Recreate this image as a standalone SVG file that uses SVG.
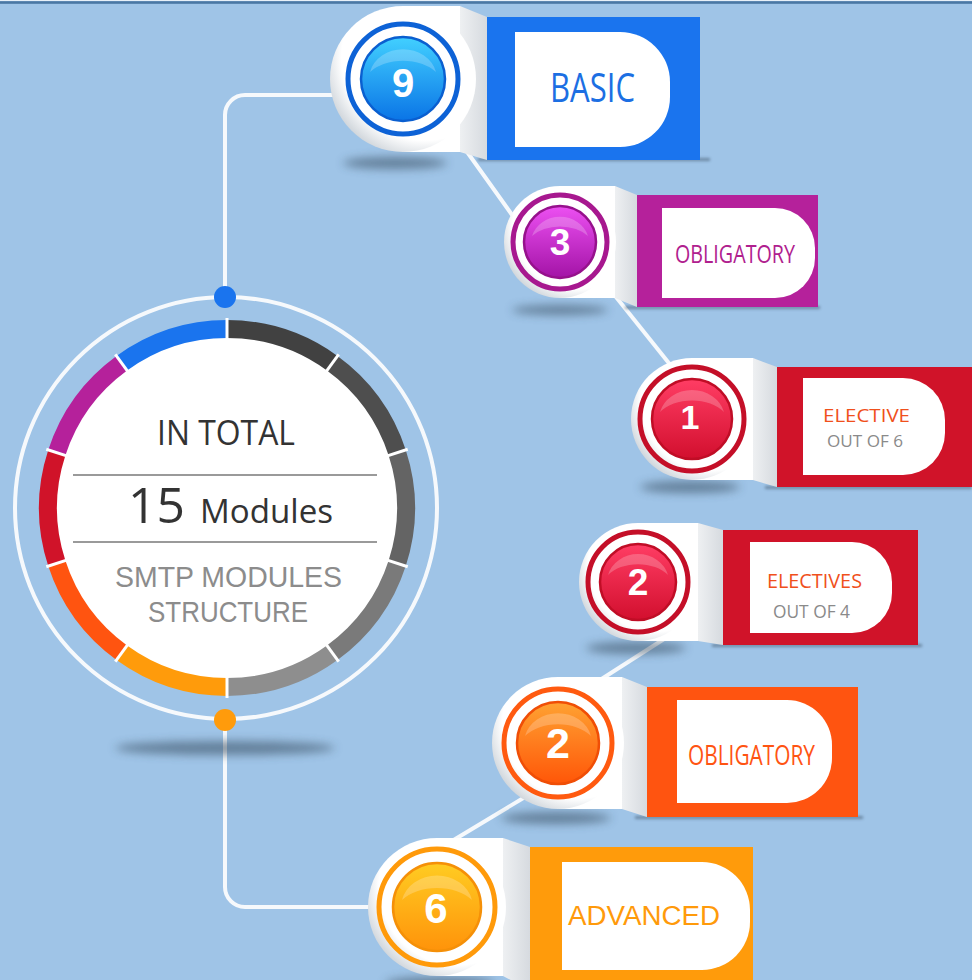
<svg xmlns="http://www.w3.org/2000/svg" width="972" height="980" viewBox="0 0 972 980">
<style>
.conn{fill:none;stroke:#f6f9fc;stroke-width:4;stroke-linecap:round}
.shadow{fill:#33465a;opacity:.55;filter:url(#blur)}
.rshadow{fill:#2c3e50;opacity:.45;filter:url(#blur2)}
.tab{fill:#ffffff}
.disc{fill:url(#wgrad)}
.fold{fill:url(#foldg)}
.dlabel{fill:#ffffff}
.num{font-family:"Liberation Sans",Arial,sans-serif;font-weight:bold;fill:#ffffff;text-anchor:middle}
.lbl{font-family:"Open Sans","Liberation Sans",sans-serif}
.hl{fill:#ffffff;opacity:.22}
.ring{fill:none;stroke-width:5}
.seg{fill:none;stroke-width:18}
.div{stroke:#ffffff;stroke-width:3}
</style>
<defs>
<filter id="blur" x="-50%" y="-200%" width="200%" height="500%"><feGaussianBlur stdDeviation="5"/></filter>
<filter id="blur2" x="-10%" y="-200%" width="120%" height="500%"><feGaussianBlur stdDeviation="1.5"/></filter>
<radialGradient id="wgrad" cx="0.65" cy="0.35" r="0.75">
<stop offset="0.76" stop-color="#ffffff"/>
<stop offset="1" stop-color="#c4cbd2"/>
</radialGradient>
<linearGradient id="foldg" x1="0" y1="0" x2="1" y2="0">
<stop offset="0" stop-color="#eef0f2"/>
<stop offset="1" stop-color="#d6dadf"/>
</linearGradient>
<linearGradient id="gBlue" x1="0" y1="0" x2="0" y2="1">
<stop offset="0" stop-color="#42d0ff"/>
<stop offset="1" stop-color="#0a74e6"/>
</linearGradient>
<linearGradient id="gMag" x1="0" y1="0" x2="0" y2="1">
<stop offset="0" stop-color="#ec50f2"/>
<stop offset="1" stop-color="#a313a6"/>
</linearGradient>
<linearGradient id="gRed" x1="0" y1="0" x2="0" y2="1">
<stop offset="0" stop-color="#ff3d64"/>
<stop offset="1" stop-color="#d20f2e"/>
</linearGradient>
<linearGradient id="gOr" x1="0" y1="0" x2="0" y2="1">
<stop offset="0" stop-color="#ffa232"/>
<stop offset="1" stop-color="#ff5608"/>
</linearGradient>
<linearGradient id="gAmb" x1="0" y1="0" x2="0" y2="1">
<stop offset="0" stop-color="#ffcc22"/>
<stop offset="1" stop-color="#ff930a"/>
</linearGradient>
</defs>

<rect x="0" y="0" width="972" height="980" fill="#9fc4e7"/>
<rect x="0" y="0" width="972" height="1.2" fill="#e8f0f8"/>
<rect x="0" y="1.2" width="972" height="2.6" fill="#4a77a3"/>

<g id="connectors">
<path class="conn" d="M225,297 V115 A20,20 0 0 1 245,95 H335"/>
<path class="conn" d="M225,720 V887 A20,20 0 0 0 245,907 H372"/>
<path class="conn" d="M455,135 L520,226"/>
<path class="conn" d="M612,292 L680,377"/>
<path class="conn" d="M675,632 L575,696"/>
<path class="conn" d="M530,794 L452,841"/>
</g>

<g id="center">
<ellipse class="shadow" cx="225" cy="748" rx="110" ry="7"/>
<circle cx="226" cy="508" r="211" fill="none" stroke="#f6f9fc" stroke-width="4"/>
<circle cx="227" cy="508" r="172" fill="#ffffff"/>
<path class="seg" stroke="#414141" d="M227,329 A179,179 0 0 1 332.2,363.2"/>
<path class="seg" stroke="#4e4e4e" d="M332.2,363.2 A179,179 0 0 1 397.2,452.7"/>
<path class="seg" stroke="#646464" d="M397.2,452.7 A179,179 0 0 1 397.2,563.3"/>
<path class="seg" stroke="#7a7a7a" d="M397.2,563.3 A179,179 0 0 1 332.2,652.8"/>
<path class="seg" stroke="#8e8e8e" d="M332.2,652.8 A179,179 0 0 1 227,687"/>
<path class="seg" stroke="#ff9b0b" d="M227,687 A179,179 0 0 1 121.8,652.8"/>
<path class="seg" stroke="#ff5410" d="M121.8,652.8 A179,179 0 0 1 56.8,563.3"/>
<path class="seg" stroke="#d01329" d="M56.8,563.3 A179,179 0 0 1 56.8,452.7"/>
<path class="seg" stroke="#b5219b" d="M56.8,452.7 A179,179 0 0 1 121.8,363.2"/>
<path class="seg" stroke="#1a74ee" d="M121.8,363.2 A179,179 0 0 1 227,329"/>
<line class="div" x1="227" y1="341" x2="227" y2="318"/>
<line class="div" x1="325.2" y1="372.9" x2="338.7" y2="354.3"/>
<line class="div" x1="385.8" y1="456.4" x2="407.7" y2="449.3"/>
<line class="div" x1="385.8" y1="559.6" x2="407.7" y2="566.7"/>
<line class="div" x1="325.2" y1="643.1" x2="338.7" y2="661.7"/>
<line class="div" x1="227" y1="675" x2="227" y2="698"/>
<line class="div" x1="128.8" y1="643.1" x2="115.3" y2="661.7"/>
<line class="div" x1="68.2" y1="559.6" x2="46.3" y2="566.7"/>
<line class="div" x1="68.2" y1="456.4" x2="46.3" y2="449.3"/>
<line class="div" x1="128.8" y1="372.9" x2="115.3" y2="354.3"/>
<circle cx="225" cy="297" r="11" fill="#1a74ee"/>
<circle cx="225" cy="720" r="11" fill="#ff9b0b"/>
<text class="lbl" x="157" y="445" font-size="35" fill="#333333" textLength="138" lengthAdjust="spacingAndGlyphs">IN TOTAL</text>
<line x1="73" y1="475" x2="377" y2="475" stroke="#9a9a9a" stroke-width="2"/>
<text class="lbl" x="128" y="523" font-size="49" fill="#333333" textLength="57" lengthAdjust="spacingAndGlyphs">15</text>
<text class="lbl" x="200" y="523" font-size="32" fill="#333333" textLength="133" lengthAdjust="spacingAndGlyphs">Modules</text>
<line x1="73" y1="542" x2="377" y2="542" stroke="#9a9a9a" stroke-width="2"/>
<text x="115" y="587" font-size="30" fill="#8c8c8c" font-family="Liberation Sans, Arial, sans-serif" textLength="227" lengthAdjust="spacingAndGlyphs">SMTP MODULES</text>
<text x="148" y="622" font-size="30" fill="#8c8c8c" font-family="Liberation Sans, Arial, sans-serif" textLength="160" lengthAdjust="spacingAndGlyphs">STRUCTURE</text>
</g>

<g id="node-basic">
<ellipse class="shadow" cx="395" cy="163" rx="52" ry="6"/>
<rect class="rshadow" x="478" y="158" width="232" height="3"/>
<rect x="487" y="17" width="213" height="143" fill="#1a74ee"/>
<path class="fold" d="M460,6 L487,17 L487,160 L460,152 Z"/>
<rect class="tab" x="403" y="6" width="57" height="146"/>
<circle class="disc" cx="403" cy="79" r="73"/>
<path class="dlabel" d="M515,32 H620 A50,50 0 0 1 670,82 V97 A50,50 0 0 1 620,147 H515 Z"/>
<circle class="ring" cx="403" cy="79" r="55" stroke="#0d62d6"/>
<circle cx="403" cy="79" r="42" fill="url(#gBlue)" stroke="#0a5fd0" stroke-width="2.5"/>
<path class="hl" d="M370,72 A34,30 0 0 1 436,72 A40,26 0 0 0 370,72 Z"/>
<text class="num" x="403" y="97" font-size="40">9</text>
<text class="lbl" x="550" y="102" font-size="40" fill="#1c6fe3" textLength="85" lengthAdjust="spacingAndGlyphs">BASIC</text>
</g>

<g id="node-obligatory-3">
<ellipse class="shadow" cx="560" cy="310" rx="48" ry="5"/>
<rect class="rshadow" x="625" y="306" width="195" height="3"/>
<rect x="637" y="195" width="181" height="112" fill="#b5219b"/>
<path class="fold" d="M615,186 L637,195 L637,307 L615,298 Z"/>
<rect class="tab" x="560" y="186" width="55" height="112"/>
<circle class="disc" cx="560" cy="242" r="56"/>
<path class="dlabel" d="M662,208 H775 A40,40 0 0 1 815,248 V258 A40,40 0 0 1 775,298 H662 Z"/>
<circle class="ring" cx="560" cy="242" r="47" stroke="#a7188f"/>
<circle cx="560" cy="242" r="36" fill="url(#gMag)" stroke="#96118c" stroke-width="2.5"/>
<path class="hl" d="M532,236 A29,26 0 0 1 588,236 A34,22 0 0 0 532,236 Z"/>
<text class="num" x="560" y="255" font-size="37">3</text>
<text class="lbl" x="675" y="263" font-size="26" fill="#b0208e" textLength="120" lengthAdjust="spacingAndGlyphs">OBLIGATORY</text>
</g>

<g id="node-elective-1">
<ellipse class="shadow" cx="690" cy="487" rx="50" ry="6"/>
<rect class="rshadow" x="765" y="486" width="207" height="3"/>
<rect x="777" y="367" width="200" height="120" fill="#d01329"/>
<path class="fold" d="M753,358 L777,367 L777,487 L753,480 Z"/>
<rect class="tab" x="692" y="358" width="61" height="122"/>
<circle class="disc" cx="692" cy="419" r="61"/>
<path class="dlabel" d="M803,378 H903 A42,42 0 0 1 945,420 V433 A42,42 0 0 1 903,475 H803 Z"/>
<circle class="ring" cx="692" cy="419" r="52" stroke="#c40f28"/>
<circle cx="692" cy="419" r="40" fill="url(#gRed)" stroke="#c00d26" stroke-width="2.5"/>
<path class="hl" d="M660,412 A33,29 0 0 1 724,412 A38,25 0 0 0 660,412 Z"/>
<text class="num" x="690" y="429" font-size="34">1</text>
<text class="lbl" x="823" y="422" font-size="19" fill="#f0501c" textLength="87" lengthAdjust="spacingAndGlyphs">ELECTIVE</text>
<text class="lbl" x="827" y="447" font-size="17" fill="#8a8a8a" textLength="76" lengthAdjust="spacingAndGlyphs">OUT OF 6</text>
</g>

<g id="node-electives-2">
<ellipse class="shadow" cx="636" cy="648" rx="50" ry="6"/>
<rect class="rshadow" x="712" y="644" width="210" height="3"/>
<rect x="723" y="530" width="195" height="115" fill="#d01329"/>
<path class="fold" d="M698,523 L723,530 L723,645 L698,641 Z"/>
<rect class="tab" x="638" y="523" width="60" height="118"/>
<circle class="disc" cx="638" cy="582" r="59"/>
<path class="dlabel" d="M750,542 H852 A40,40 0 0 1 892,582 V593 A40,40 0 0 1 852,633 H750 Z"/>
<circle class="ring" cx="638" cy="582" r="50" stroke="#c40f28"/>
<circle cx="638" cy="582" r="38" fill="url(#gRed)" stroke="#c00d26" stroke-width="2.5"/>
<path class="hl" d="M608,575 A31,28 0 0 1 668,575 A36,24 0 0 0 608,575 Z"/>
<text class="num" x="638" y="595" font-size="37">2</text>
<text class="lbl" x="767" y="588" font-size="20" fill="#f0501c" textLength="95" lengthAdjust="spacingAndGlyphs">ELECTIVES</text>
<text class="lbl" x="773" y="618" font-size="19" fill="#8a8a8a" textLength="77" lengthAdjust="spacingAndGlyphs">OUT OF 4</text>
</g>

<g id="node-obligatory-2">
<ellipse class="shadow" cx="556" cy="818" rx="55" ry="6"/>
<rect class="rshadow" x="635" y="816" width="228" height="3"/>
<rect x="647" y="687" width="211" height="130" fill="#ff5410"/>
<path class="fold" d="M622,677 L647,687 L647,817 L622,809 Z"/>
<rect class="tab" x="558" y="677" width="64" height="132"/>
<circle class="disc" cx="558" cy="743" r="66"/>
<path class="dlabel" d="M677,700 H787 A45,45 0 0 1 832,745 V758 A45,45 0 0 1 787,803 H677 Z"/>
<circle class="ring" cx="558" cy="743" r="54" stroke="#ff5a10"/>
<circle cx="558" cy="743" r="41" fill="url(#gOr)" stroke="#f04e06" stroke-width="2.5"/>
<path class="hl" d="M525,736 A34,30 0 0 1 591,736 A39,25 0 0 0 525,736 Z"/>
<text class="num" x="558" y="758" font-size="43">2</text>
<text class="lbl" x="688" y="765" font-size="28" fill="#ff5412" textLength="127" lengthAdjust="spacingAndGlyphs">OBLIGATORY</text>
</g>

<g id="node-advanced">
<ellipse class="shadow" cx="440" cy="983" rx="55" ry="6"/>
<rect x="530" y="847" width="223" height="143" fill="#ff9b0b"/>
<path class="fold" d="M503,838 L530,847 L530,990 L503,976 Z"/>
<rect class="tab" x="437" y="838" width="66" height="138"/>
<circle class="disc" cx="437" cy="907" r="69"/>
<path class="dlabel" d="M562,862 H702 A48,48 0 0 1 750,910 V922 A48,48 0 0 1 702,970 H562 Z"/>
<circle class="ring" cx="437" cy="907" r="58" stroke="#ff9a0a"/>
<circle cx="437" cy="907" r="44" fill="url(#gAmb)" stroke="#f59008" stroke-width="2.5"/>
<path class="hl" d="M402,900 A36,32 0 0 1 472,900 A42,27 0 0 0 402,900 Z"/>
<text class="num" x="436" y="923" font-size="42">6</text>
<text x="568" y="925" font-size="27" fill="#ff9a0a" font-family="Liberation Sans, Arial, sans-serif" textLength="152" lengthAdjust="spacingAndGlyphs">ADVANCED</text>
</g>
</svg>
